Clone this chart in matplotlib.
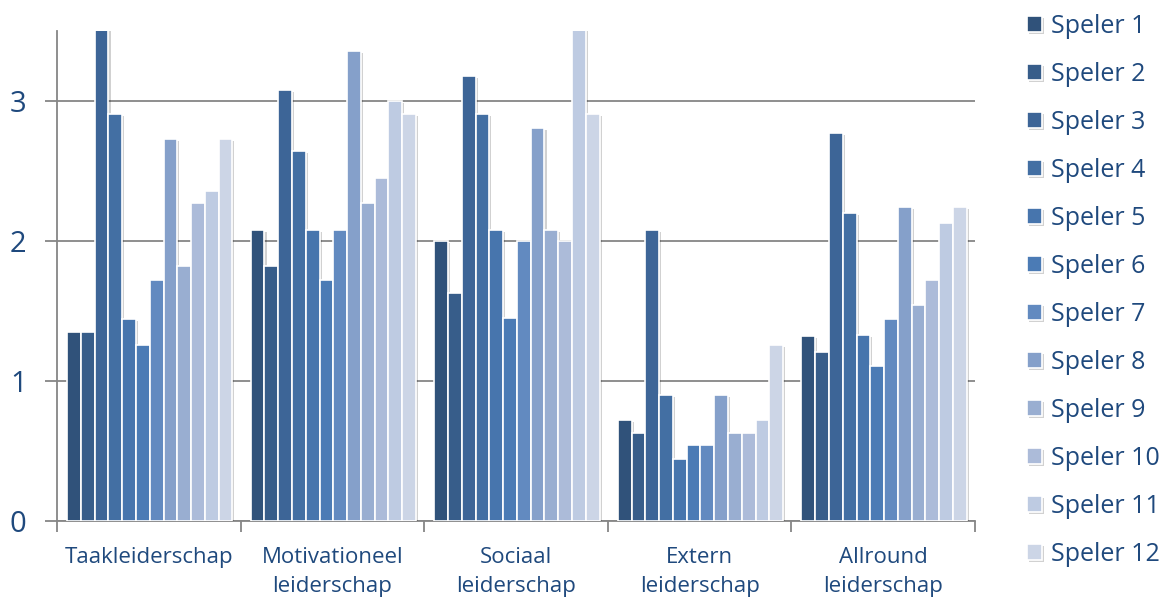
import numpy as np
import matplotlib
matplotlib.use("Agg")
import matplotlib.pyplot as plt
import matplotlib.patheffects as pe

categories = ["Taakleiderschap", "Motivationeel\nleiderschap", "Sociaal\nleiderschap",
              "Extern\nleiderschap", "Allround\nleiderschap"]
spelers = ["Speler %d" % i for i in range(1, 13)]

# scores per speler, in volgorde van de categorieen
scores = [
    [1.35, 2.08, 2.00, 0.72, 1.32],   # Speler 1
    [1.35, 1.82, 1.63, 0.63, 1.21],   # Speler 2
    [3.55, 3.08, 3.18, 2.08, 2.77],   # Speler 3
    [2.91, 2.64, 2.91, 0.90, 2.20],   # Speler 4
    [1.44, 2.08, 2.08, 0.44, 1.33],   # Speler 5
    [1.26, 1.72, 1.45, 0.54, 1.11],   # Speler 6
    [1.72, 2.08, 2.00, 0.54, 1.44],   # Speler 7
    [2.73, 3.36, 2.81, 0.90, 2.24],   # Speler 8
    [1.82, 2.27, 2.08, 0.63, 1.54],   # Speler 9
    [2.27, 2.45, 2.00, 0.63, 1.72],   # Speler 10
    [2.36, 3.00, 3.55, 0.72, 2.13],   # Speler 11
    [2.73, 2.91, 2.91, 1.26, 2.24],   # Speler 12
]

kleuren = ["#30527a", "#375d8a", "#3d6597", "#436fa3", "#4775ad", "#4b7bb5",
           "#628ac0", "#85a0ca", "#99aed1", "#acbbd9", "#becbe2", "#ccd5e6"]

tekst = "#1f497d"
grijs = "#868686"

fig = plt.figure(figsize=(11.69, 6.0), dpi=100)
ax = fig.add_axes([0.0488, 0.1317, 0.7852, 0.8166])

x = np.arange(len(categories))
breedte = 0.075
schaduw = [pe.SimplePatchShadow(offset=(1.5, -1.5), shadow_rgbFace="#000000", alpha=0.18), pe.Normal()]
for i, (naam, waarden) in enumerate(zip(spelers, scores)):
    pos = x - 0.45 + breedte * (i + 0.5) + 0.005
    ax.bar(pos, waarden, width=breedte, color=kleuren[i], edgecolor="white",
           linewidth=1.2, label=naam, zorder=3, path_effects=schaduw)

ax.set_xlim(-0.5, len(categories) - 0.5)
ax.set_ylim(0, 3.5)
ax.set_yticks([0, 1, 2, 3])
ax.yaxis.grid(True, color=grijs, linewidth=1.3, zorder=0)
ax.set_axisbelow(True)

for s in ["top", "right"]:
    ax.spines[s].set_visible(False)
for s in ["left", "bottom"]:
    ax.spines[s].set_color(grijs)
    ax.spines[s].set_linewidth(1.3)

ax.set_xticks(x)
ax.set_xticklabels(categories, fontsize=16, color=tekst, linespacing=1.45, family="Open Sans")
ax.set_xticks(np.arange(-0.5, len(categories)), minor=True)
ax.tick_params(axis="x", which="major", length=0, pad=19)
ax.tick_params(axis="x", which="minor", length=8, width=1.3, color=grijs)
ax.tick_params(axis="y", length=9, width=1.3, color=grijs, labelsize=21,
               labelcolor=tekst, pad=13)
for t in ax.get_yticklabels():
    t.set_family("Open Sans")

leg = ax.legend(loc="upper left", bbox_to_anchor=(1.046, 1.055), frameon=False,
                prop={"family": "Open Sans", "size": 18}, labelcolor=tekst,
                handlelength=0.6, handleheight=0.6, handletextpad=0.35,
                labelspacing=0.92, borderaxespad=0)

fig.savefig("out.png", dpi=100)
